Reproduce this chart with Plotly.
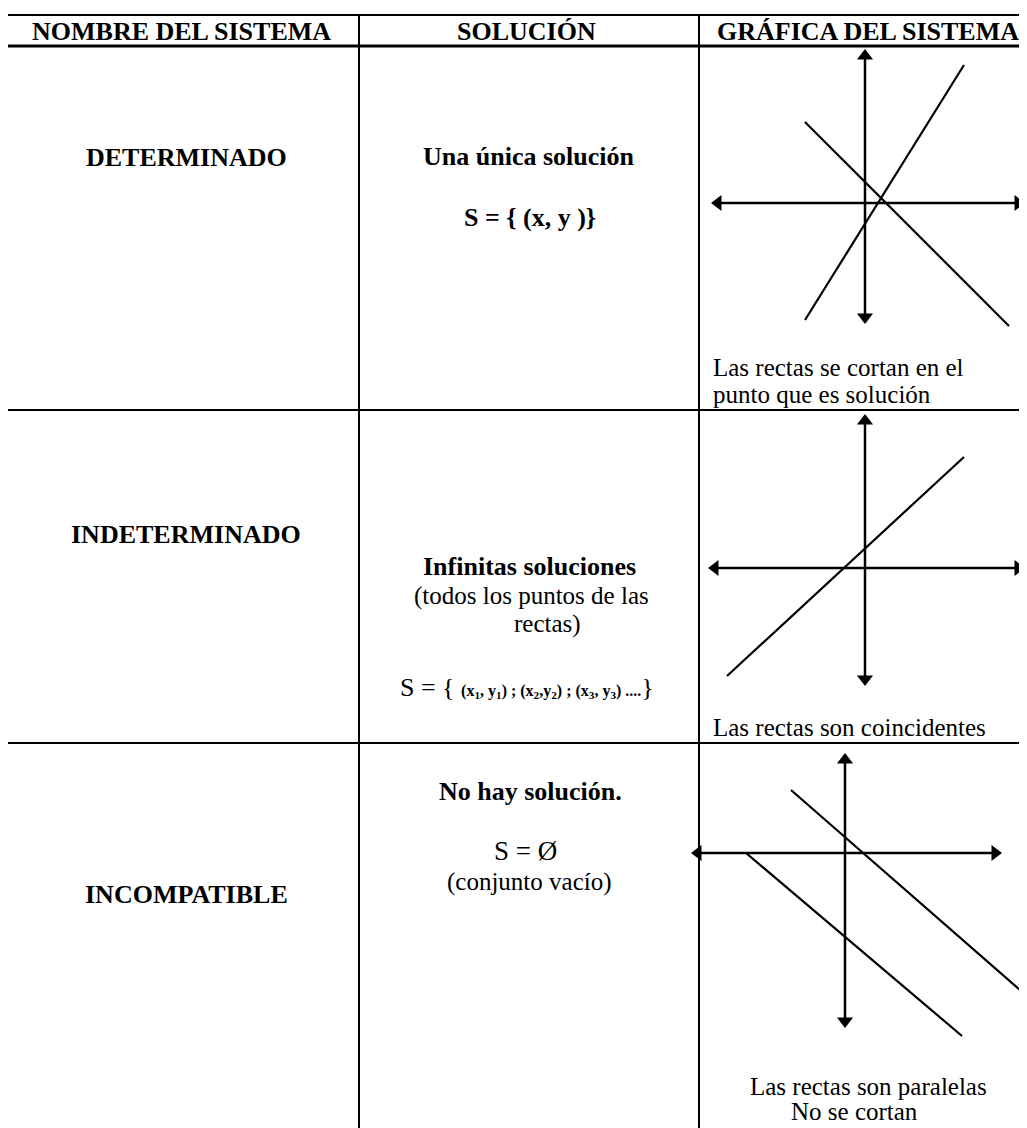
"""
Tabla de clasificación de sistemas de ecuaciones lineales
Recrea la tabla con Plotly: texto como anotaciones y gráficas en ejes propios
"""
import plotly.graph_objects as go

# la página deja un margen de 8 px alrededor del gráfico
OFF = 8
W, H = 1027 - OFF, 1128 - OFF
FUENTE = "Liberation Serif, Times New Roman, DejaVu Serif, serif"

# --- Datos ---
ENCABEZADOS = ["NOMBRE DEL SISTEMA", "SOLUCIÓN", "GRÁFICA DEL SISTEMA"]
SISTEMAS = ["DETERMINADO", "INDETERMINADO", "INCOMPATIBLE"]

SOL_DET = ["Una única solución", "S = { (x, y )}"]
SOL_IND = [
    "Infinitas soluciones",
    "(todos los puntos de las",
    "rectas)",
    "S = { <span style='font-size:16px;font-weight:bold'>(x<sub>1</sub>, y<sub>1</sub>) ; "
    "(x<sub>2</sub>,y<sub>2</sub>) ; (x<sub>3</sub>, y<sub>3</sub>) ....</span>}",
]
SOL_INC = ["No hay solución.", "S = Ø", "(conjunto vacío)"]

LEYENDA_DET = ["Las rectas se cortan en el", "punto que es solución"]
LEYENDA_IND = ["Las rectas son coincidentes"]
LEYENDA_INC = ["Las rectas son paralelas", "No se cortan"]

# extremos de los ejes y de las rectas, en unidades del plano cartesiano
EJE_X_DET = [-4.9, 5.1]
EJE_Y_DET = [4.9, -3.8]
RECTA_DET_A_X = [-2.0, 3.3]
RECTA_DET_A_Y = [-3.9, 4.6]
RECTA_DET_B_X = [-2.0, 4.8]
RECTA_DET_B_Y = [2.7, -4.1]

EJE_X_IND = [-5.0, 5.1]
EJE_Y_IND = [4.9, -3.7]
RECTA_IND_X = [-4.6, 3.3]
RECTA_IND_Y = [-3.6, 3.7]

EJE_X_INC = [-4.9, 5.0]
EJE_Y_INC = [3.1, -5.6]
RECTA_INC_A_X = [-1.8, 6.1]
RECTA_INC_A_Y = [2.1, -4.8]
RECTA_INC_B_X = [-3.3, 3.9]
RECTA_INC_B_Y = [0.0, -6.1]

# --- Geometría de la tabla (px de la imagen) ---
COLS = [6, 359, 699]
FILAS = [15, 46, 410, 743]
ESCALA = 30  # px por unidad en las gráficas


def fx(px):
    return (px - OFF) / W


def fy(py):
    return 1 - (py - OFF) / H


fig = go.Figure()

# Líneas de la tabla
shapes = []
for i, y in enumerate(FILAS):
    shapes.append(dict(type="line", xref="paper", yref="paper",
                       x0=fx(COLS[0] - 1), x1=1, y0=fy(y), y1=fy(y),
                       line=dict(color="black", width=3 if i == 1 else 2)))
for x in COLS:
    shapes.append(dict(type="line", xref="paper", yref="paper",
                       x0=fx(x), x1=fx(x), y0=fy(FILAS[0]), y1=0,
                       line=dict(color="black", width=2)))

annotations = []


def texto(t, x, y, size=26, bold=False, xanchor="center"):
    annotations.append(dict(
        text=t,
        x=fx(x), y=fy(y), xref="paper", yref="paper",
        xanchor=xanchor, yanchor="middle", showarrow=False,
        font=dict(family=FUENTE, size=size, color="black",
                  weight="bold" if bold else "normal")
    ))


# Encabezados
for t, x in zip(ENCABEZADOS, [181, 526, 868]):
    texto(t, x, 31, size=26, bold=True)

# Nombres de los sistemas
for t, y in zip(SISTEMAS, [158, 534, 894]):
    texto(t, 186, y, size=26, bold=True)

# Columna de soluciones
texto(SOL_DET[0], 528, 157, bold=True)
texto(SOL_DET[1], 530, 217, bold=True)

texto(SOL_IND[0], 529, 566, bold=True)
texto(SOL_IND[1], 531, 596, size=25)
texto(SOL_IND[2], 547, 624, size=25)
texto(SOL_IND[3], 527, 687, size=26)

texto(SOL_INC[0], 530, 791, bold=True)
texto(SOL_INC[1], 525, 851, size=27)
texto(SOL_INC[2], 529, 882, size=25)

# Leyendas de las gráficas
texto(LEYENDA_DET[0], 711, 368, size=25, xanchor="left")
texto(LEYENDA_DET[1], 711, 394, size=25, xanchor="left")
texto(LEYENDA_IND[0], 711, 727, size=25, xanchor="left")
texto(LEYENDA_INC[0], 868, 1086, size=25)
texto(LEYENDA_INC[1], 854, 1111, size=25)

# Gráficas: un par de ejes por celda
paneles = [
    # (n, celda arriba, celda abajo, origen x, origen y)
    (2, FILAS[1], FILAS[2], 865, 203),
    (3, FILAS[2], FILAS[3], 865, 568),
    (4, FILAS[3], H + OFF, 845, 853),
]
x_izq, x_der = 685, W + OFF
layout_ejes = {}
for n, top, bot, ox, oy in paneles:
    layout_ejes[f"xaxis{n}"] = dict(
        domain=[fx(x_izq), fx(x_der)],
        range=[(x_izq - ox) / ESCALA, (x_der - ox) / ESCALA],
        visible=False, fixedrange=True, anchor=f"y{n}")
    layout_ejes[f"yaxis{n}"] = dict(
        domain=[fy(bot), fy(top)],
        range=[(oy - bot) / ESCALA, (oy - top) / ESCALA],
        visible=False, fixedrange=True, anchor=f"x{n}")


def ejes(n, ex, ey):
    fig.add_trace(go.Scatter(
        x=ex, y=[0, 0], xaxis=f"x{n}", yaxis=f"y{n}",
        mode="lines+markers", cliponaxis=False,
        line=dict(color="black", width=2.5),
        marker=dict(symbol=["triangle-left", "triangle-right"], size=14, color="black"),
        hoverinfo="skip", showlegend=False
    ))
    fig.add_trace(go.Scatter(
        x=[0, 0], y=ey, xaxis=f"x{n}", yaxis=f"y{n}",
        mode="lines+markers", cliponaxis=False,
        line=dict(color="black", width=2.5),
        marker=dict(symbol=["triangle-up", "triangle-down"], size=14, color="black"),
        hoverinfo="skip", showlegend=False
    ))


def recta(n, xs, ys):
    fig.add_trace(go.Scatter(
        x=xs, y=ys, xaxis=f"x{n}", yaxis=f"y{n}", mode="lines",
        line=dict(color="black", width=2.2),
        hoverinfo="skip", showlegend=False
    ))


ejes(2, EJE_X_DET, EJE_Y_DET)
recta(2, RECTA_DET_A_X, RECTA_DET_A_Y)
recta(2, RECTA_DET_B_X, RECTA_DET_B_Y)

ejes(3, EJE_X_IND, EJE_Y_IND)
recta(3, RECTA_IND_X, RECTA_IND_Y)

ejes(4, EJE_X_INC, EJE_Y_INC)
recta(4, RECTA_INC_A_X, RECTA_INC_A_Y)
recta(4, RECTA_INC_B_X, RECTA_INC_B_Y)

fig.update_layout(
    width=W, height=H,
    margin=dict(l=0, r=0, t=0, b=0),
    paper_bgcolor="white", plot_bgcolor="white",
    xaxis=dict(visible=False), yaxis=dict(visible=False),
    shapes=shapes, annotations=annotations,
    showlegend=False,
    **layout_ejes
)

fig.write_html("out.html")
